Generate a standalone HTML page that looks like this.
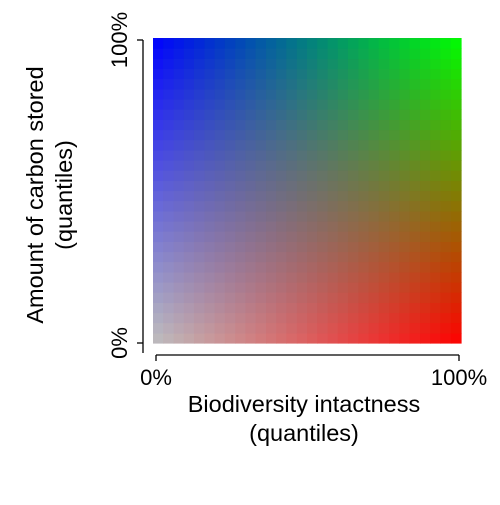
<!DOCTYPE html>
<html><head><meta charset="utf-8"><style>
body{margin:0;background:#fff}
svg text{font-family:"Liberation Sans",Arial,sans-serif;fill:#000}
</style></head><body>
<svg id="c" width="500" height="500">
<g id="cells"></g>
<line x1="143" y1="40" x2="143" y2="353" stroke="#000" stroke-width="1.3"/>
<line x1="137" y1="40" x2="143" y2="40" stroke="#000" stroke-width="1.3"/>
<line x1="137" y1="343" x2="143" y2="343" stroke="#000" stroke-width="1.3"/>
<line x1="156" y1="355" x2="459" y2="355" stroke="#000" stroke-width="1.3"/>
<line x1="156" y1="355" x2="156" y2="361" stroke="#000" stroke-width="1.3"/>
<line x1="459" y1="355" x2="459" y2="361" stroke="#000" stroke-width="1.3"/>
<text x="156" y="385" font-size="22" text-anchor="middle">0%</text>
<text x="459" y="385" font-size="22" text-anchor="middle">100%</text>
<text transform="translate(127,343) rotate(-90)" font-size="22" text-anchor="middle">0%</text>
<text transform="translate(127,40) rotate(-90)" font-size="22" text-anchor="middle">100%</text>
<text x="304" y="412" font-size="23.5" text-anchor="middle">Biodiversity intactness</text>
<text x="304" y="441" font-size="23.5" text-anchor="middle">(quantiles)</text>
<text transform="translate(43,195) rotate(-90)" font-size="23.5" text-anchor="middle">Amount of carbon stored</text>
<text transform="translate(72,195) rotate(-90)" font-size="23.5" text-anchor="middle">(quantiles)</text>
</svg>
<script>
const xLevels=[0,0.033,0.067,0.1,0.133,0.167,0.2,0.233,0.267,0.3,0.333,0.367,0.4,0.433,0.467,0.5,0.533,0.567,0.6,0.633,0.667,0.7,0.733,0.767,0.8,0.833,0.867,0.9,0.933,0.967,1];
const yLevels=[0,0.033,0.067,0.1,0.133,0.167,0.2,0.233,0.267,0.3,0.333,0.367,0.4,0.433,0.467,0.5,0.533,0.567,0.6,0.633,0.667,0.7,0.733,0.767,0.8,0.833,0.867,0.9,0.933,0.967,1];
const cornerLow=[190,190,190], cornerX=[255,0,0], cornerY=[0,0,255], cornerXY=[0,255,0];
const X0=153,X1=461,Y0=343,Y1=38;
function sx(v){return X0+v*(X1-X0);}
function sy(v){return Y0+v*(Y1-Y0);}
const g=document.getElementById('cells');
for(let i=0;i<xLevels.length-1;i++){for(let j=0;j<yLevels.length-1;j++){
 const u=(xLevels[i]+xLevels[i+1])/2, v=(yLevels[j]+yLevels[j+1])/2;
 const col=[0,1,2].map(k=>Math.round(cornerLow[k]*(1-u)*(1-v)+cornerX[k]*u*(1-v)+cornerY[k]*(1-u)*v+cornerXY[k]*u*v));
 const r=document.createElementNS('http://www.w3.org/2000/svg','rect');
 const xa=sx(xLevels[i]),xb=sx(xLevels[i+1]),ya=sy(yLevels[j+1]),yb=sy(yLevels[j]);
 r.setAttribute('x',xa);r.setAttribute('y',ya);r.setAttribute('width',xb-xa+0.6);r.setAttribute('height',yb-ya+0.6);
 r.setAttribute('fill','rgb('+col.join(',')+')');
 
 
 g.appendChild(r);
}}
</script>
</body></html>
